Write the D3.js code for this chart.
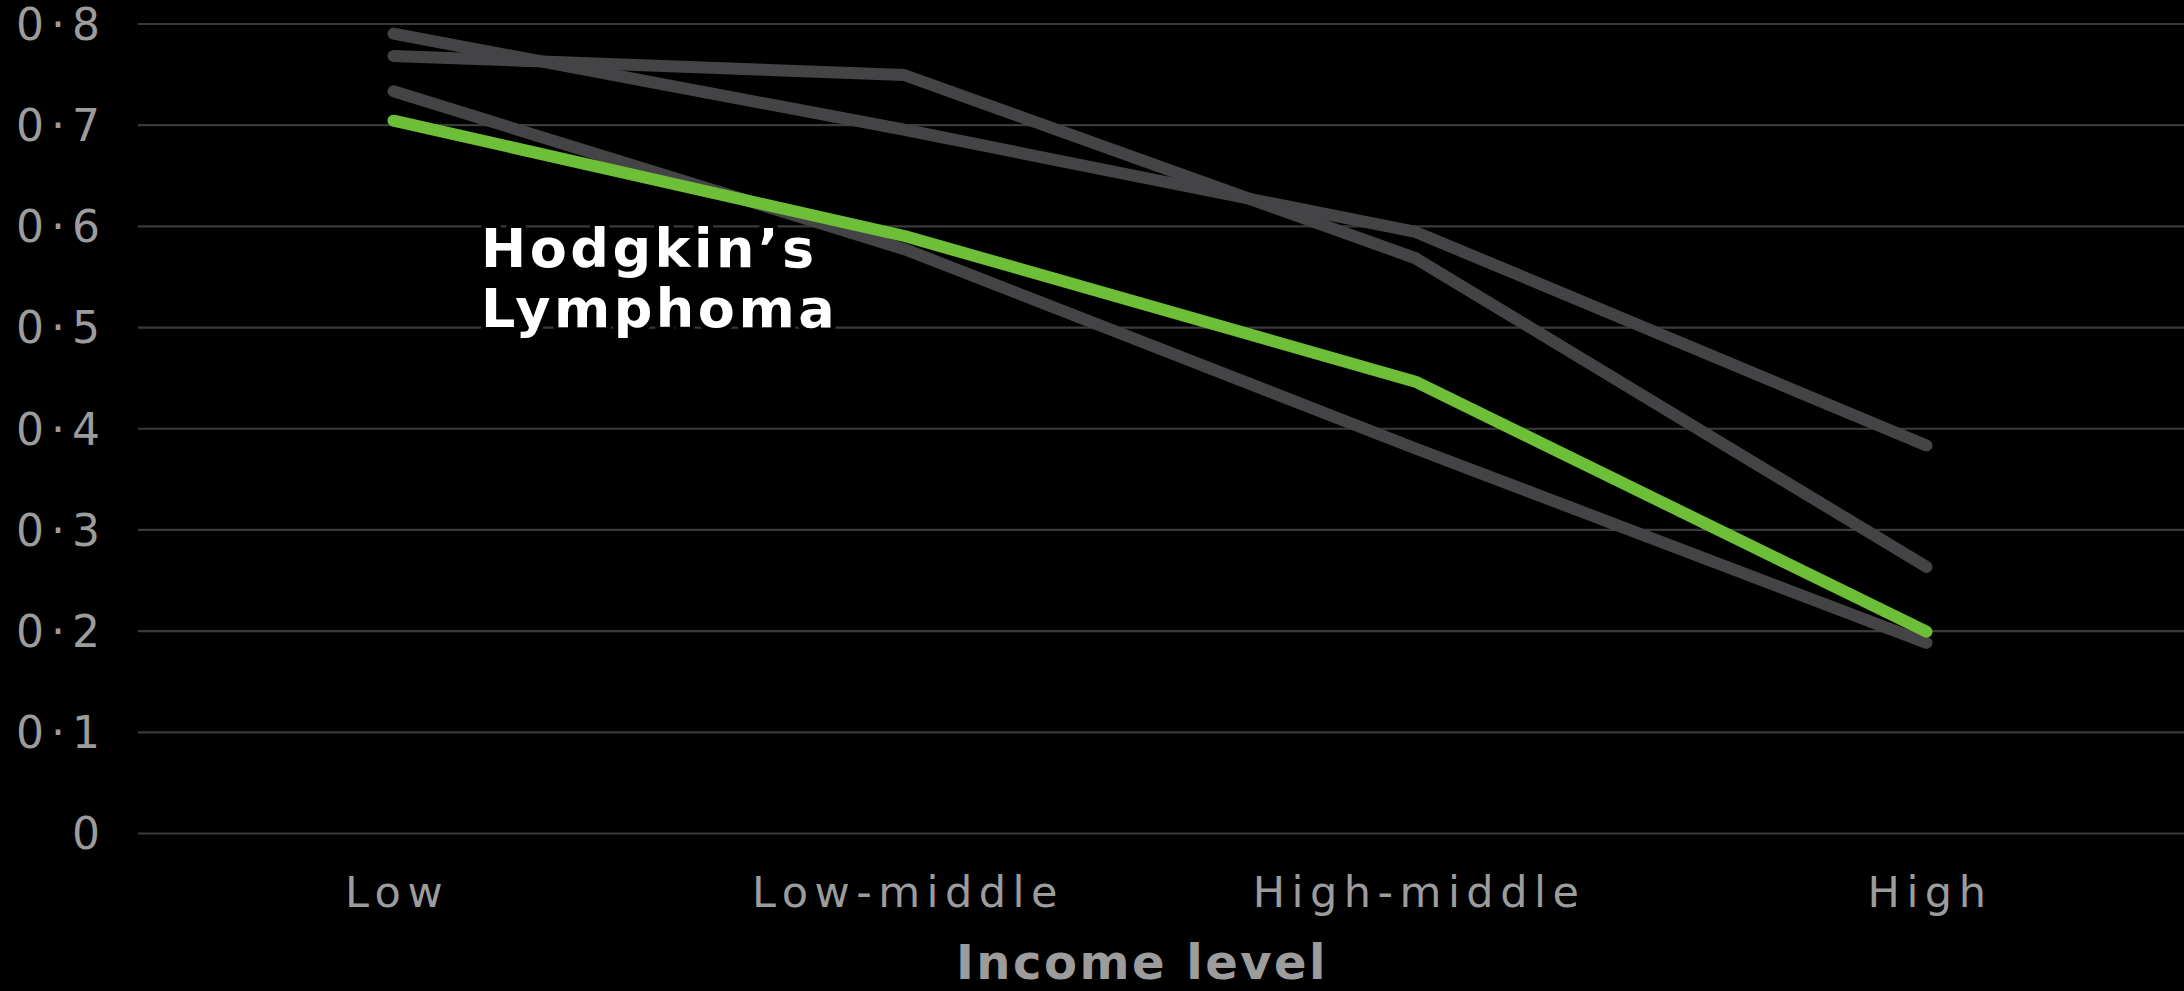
<!DOCTYPE html>
<html>
<head>
<meta charset="utf-8">
<script src="https://cdn.jsdelivr.net/npm/d3@7"></script>
<style>
  html, body { margin: 0; padding: 0; background: #000; }
  svg { display: block; }
</style>
</head>
<body>
<svg id="chart" width="2184" height="991"></svg>
<script>
// ---- data ----
const categories = ["Low", "Low-middle", "High-middle", "High"];
const seriesNames = ["Other A", "Other B", "Other C", "Hodgkin's Lymphoma"];
const otherA = [0.790, 0.695, 0.594, 0.383];
const otherB = [0.768, 0.749, 0.568, 0.263];
const otherC = [0.733, 0.577, 0.380, 0.188];
const hodgkin = [0.704, 0.590, 0.446, 0.199];
const yTicks = [0, 0.1, 0.2, 0.3, 0.4, 0.5, 0.6, 0.7, 0.8];
const xTitle = "Income level";
const labelLines = ["Hodgkin\u2019s", "Lymphoma"];

// ---- layout ----
const W = 2184, H = 991;
const plotLeft = 138, plotRight = 2184, plotTop = 23.5, plotBottom = 833;

const svg = d3.select("#chart");
svg.append("rect").attr("width", W).attr("height", H).attr("fill", "#000");

const x = d3.scalePoint().domain(categories).range([138, 2182]).padding(0.5);
const y = d3.scaleLinear().domain([0, 0.8]).range([plotBottom, plotTop]);

const fmt = d => d === 0 ? "0" : d3.format(".1f")(d).replace(".", "\u00B7");

// gridlines + y labels
const yAxis = d3.axisLeft(y)
  .tickValues(yTicks)
  .tickFormat(fmt)
  .tickSize(-(plotRight - plotLeft))
  .tickPadding(31);

const gy = svg.append("g")
  .attr("transform", `translate(${plotLeft},0)`)
  .call(yAxis);
gy.select(".domain").remove();
gy.selectAll(".tick line").attr("stroke", "#3a3a3a").attr("stroke-width", 2.2);
gy.selectAll(".tick text")
  .attr("fill", "#9c9c9c")
  .attr("font-family", "'DejaVu Sans', sans-serif")
  .attr("font-size", 44)
  .attr("letter-spacing", 7)
  .attr("dy", "0.36em");

// x axis labels
const xAxis = d3.axisBottom(x).tickSize(0).tickPadding(43);
const gx = svg.append("g")
  .attr("transform", `translate(0,${plotBottom})`)
  .call(xAxis);
gx.select(".domain").remove();
gx.selectAll(".tick text")
  .attr("fill", "#9c9c9c")
  .attr("font-family", "'DejaVu Sans', sans-serif")
  .attr("font-size", 43)
  .attr("letter-spacing", 6.5)
  .attr("dx", 3);

// x title
svg.append("text")
  .attr("x", 1142)
  .attr("y", 979)
  .attr("text-anchor", "middle")
  .attr("fill", "#9c9c9c")
  .attr("font-family", "'DejaVu Sans', sans-serif")
  .attr("font-weight", "bold")
  .attr("font-size", 48)
  .attr("letter-spacing", 2.5)
  .text(xTitle);

// lines
const line = d3.line()
  .x((d, i) => x(categories[i]))
  .y(d => y(d));

const grays = [otherA, otherB, otherC];
svg.append("g").selectAll("path.gray")
  .data(grays)
  .join("path")
  .attr("class", "gray")
  .attr("d", line)
  .attr("fill", "none")
  .attr("stroke", "#444446")
  .attr("stroke-width", 12)
  .attr("stroke-linecap", "round")
  .attr("stroke-linejoin", "round");

svg.append("path")
  .datum(hodgkin)
  .attr("d", line)
  .attr("fill", "none")
  .attr("stroke", "#6cbf36")
  .attr("stroke-width", 12)
  .attr("stroke-linecap", "round")
  .attr("stroke-linejoin", "round");

// label
const lbl = svg.append("text")
  .attr("x", 481)
  .attr("y", 267)
  .attr("fill", "#ffffff")
  .attr("font-family", "'DejaVu Sans', sans-serif")
  .attr("font-weight", "bold")
  .attr("font-size", 54)
  .attr("letter-spacing", 3.5)
  .attr("stroke", "#000")
  .attr("stroke-width", 10)
  .attr("paint-order", "stroke")
  .attr("stroke-linejoin", "round");
lbl.selectAll("tspan")
  .data(labelLines)
  .join("tspan")
  .attr("x", 481)
  .attr("dy", (d, i) => i === 0 ? 0 : 60)
  .text(d => d);
</script>
</body>
</html>
